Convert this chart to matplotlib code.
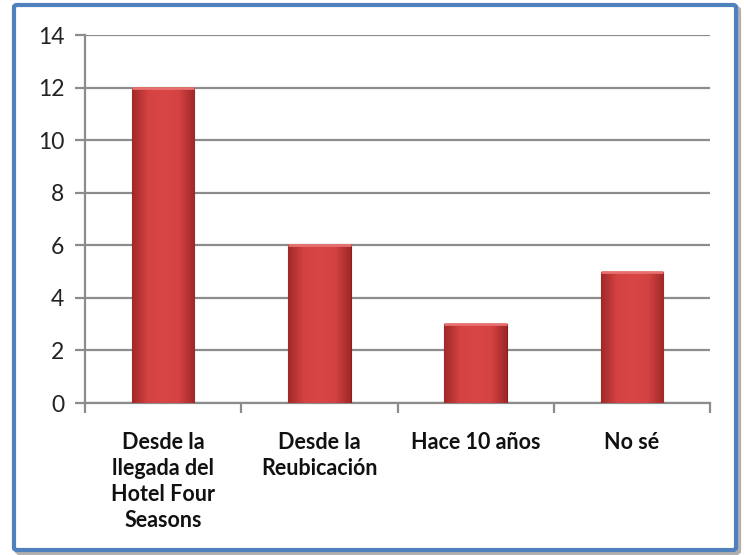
import matplotlib
matplotlib.use("Agg")
import matplotlib.pyplot as plt
import numpy as np
from matplotlib.patches import FancyBboxPatch
from matplotlib.colors import LinearSegmentedColormap

categories = ["Desde la\nllegada del\nHotel Four\nSeasons", "Desde la\nReubicación", "Hace 10 años", "No sé"]
values = [12, 6, 3, 5]
yticks = [0, 2, 4, 6, 8, 10, 12, 14]

plt.rcParams['font.family'] = ['Lato', 'DejaVu Sans']

fig = plt.figure(figsize=(7.44, 5.55), dpi=100, facecolor="white")
W, H = 744, 555

# border with shadow
shadow = FancyBboxPatch((17 / W, 2 / H), 722 / W, 545 / H, boxstyle="round,pad=0,rounding_size=0.004",
                        transform=fig.transFigure, facecolor="none", edgecolor="#b0b0b0", linewidth=3, zorder=-2)
fig.patches.append(shadow)
border = FancyBboxPatch((14 / W, 5 / H), 722 / W, 545 / H, boxstyle="round,pad=0,rounding_size=0.004",
                        transform=fig.transFigure, facecolor="white", edgecolor="#4F81BD", linewidth=3, zorder=-1)
fig.patches.append(border)

ax = fig.add_axes([85 / W, (H - 403) / H, (710 - 85) / W, (403 - 35) / H])
ax.set_facecolor("none")
x = np.arange(len(categories))
bars = ax.bar(x, values, width=0.4, color="#D23F3F", edgecolor="#8B1E1E", linewidth=0.8, zorder=3)

cmap = LinearSegmentedColormap.from_list("bev", ["#A02828", "#D44242", "#D94646", "#D44242", "#A02828"])
grad = np.linspace(0, 1, 256).reshape(1, -1)
for b in bars:
    bx, by = b.get_x(), b.get_y()
    bw, bh = b.get_width(), b.get_height()
    im = ax.imshow(grad, extent=[bx, bx + bw, by, by + bh], aspect="auto", cmap=cmap, zorder=3.5)
    im.set_clip_path(b)
    ax.plot([bx, bx + bw], [by + bh, by + bh], color="#E87070", lw=2.0, zorder=4, solid_capstyle="butt")

ax.set_xlim(-0.5, len(categories) - 0.5)
ax.set_ylim(0, 14)
ax.set_yticks(yticks)
ax.set_yticklabels([str(v) for v in yticks], fontsize=16.5, color="#222222")
ax.yaxis.grid(True, color="#8c8c8c", linewidth=1.6, zorder=0)
ax.set_axisbelow(True)

ax.set_xticks(np.arange(-0.5, len(categories), 1.0))
ax.set_xticklabels([])
ax.set_xticks(x, minor=True)
ax.set_xticklabels(categories, minor=True, fontsize=15.5, fontweight="bold", color="#111111", linespacing=1.3, va="top")
ax.tick_params(axis="x", which="minor", length=0, pad=21)
ax.tick_params(axis="x", which="major", length=7, width=1.6, color="#8c8c8c", direction="out")
ax.tick_params(axis="y", length=7, width=1.6, color="#8c8c8c", direction="out", pad=8)

for s in ["top", "right"]:
    ax.spines[s].set_visible(False)
for s in ["left", "bottom"]:
    ax.spines[s].set_color("#8c8c8c")
    ax.spines[s].set_linewidth(1.6)

fig.savefig("out.png", dpi=100)
